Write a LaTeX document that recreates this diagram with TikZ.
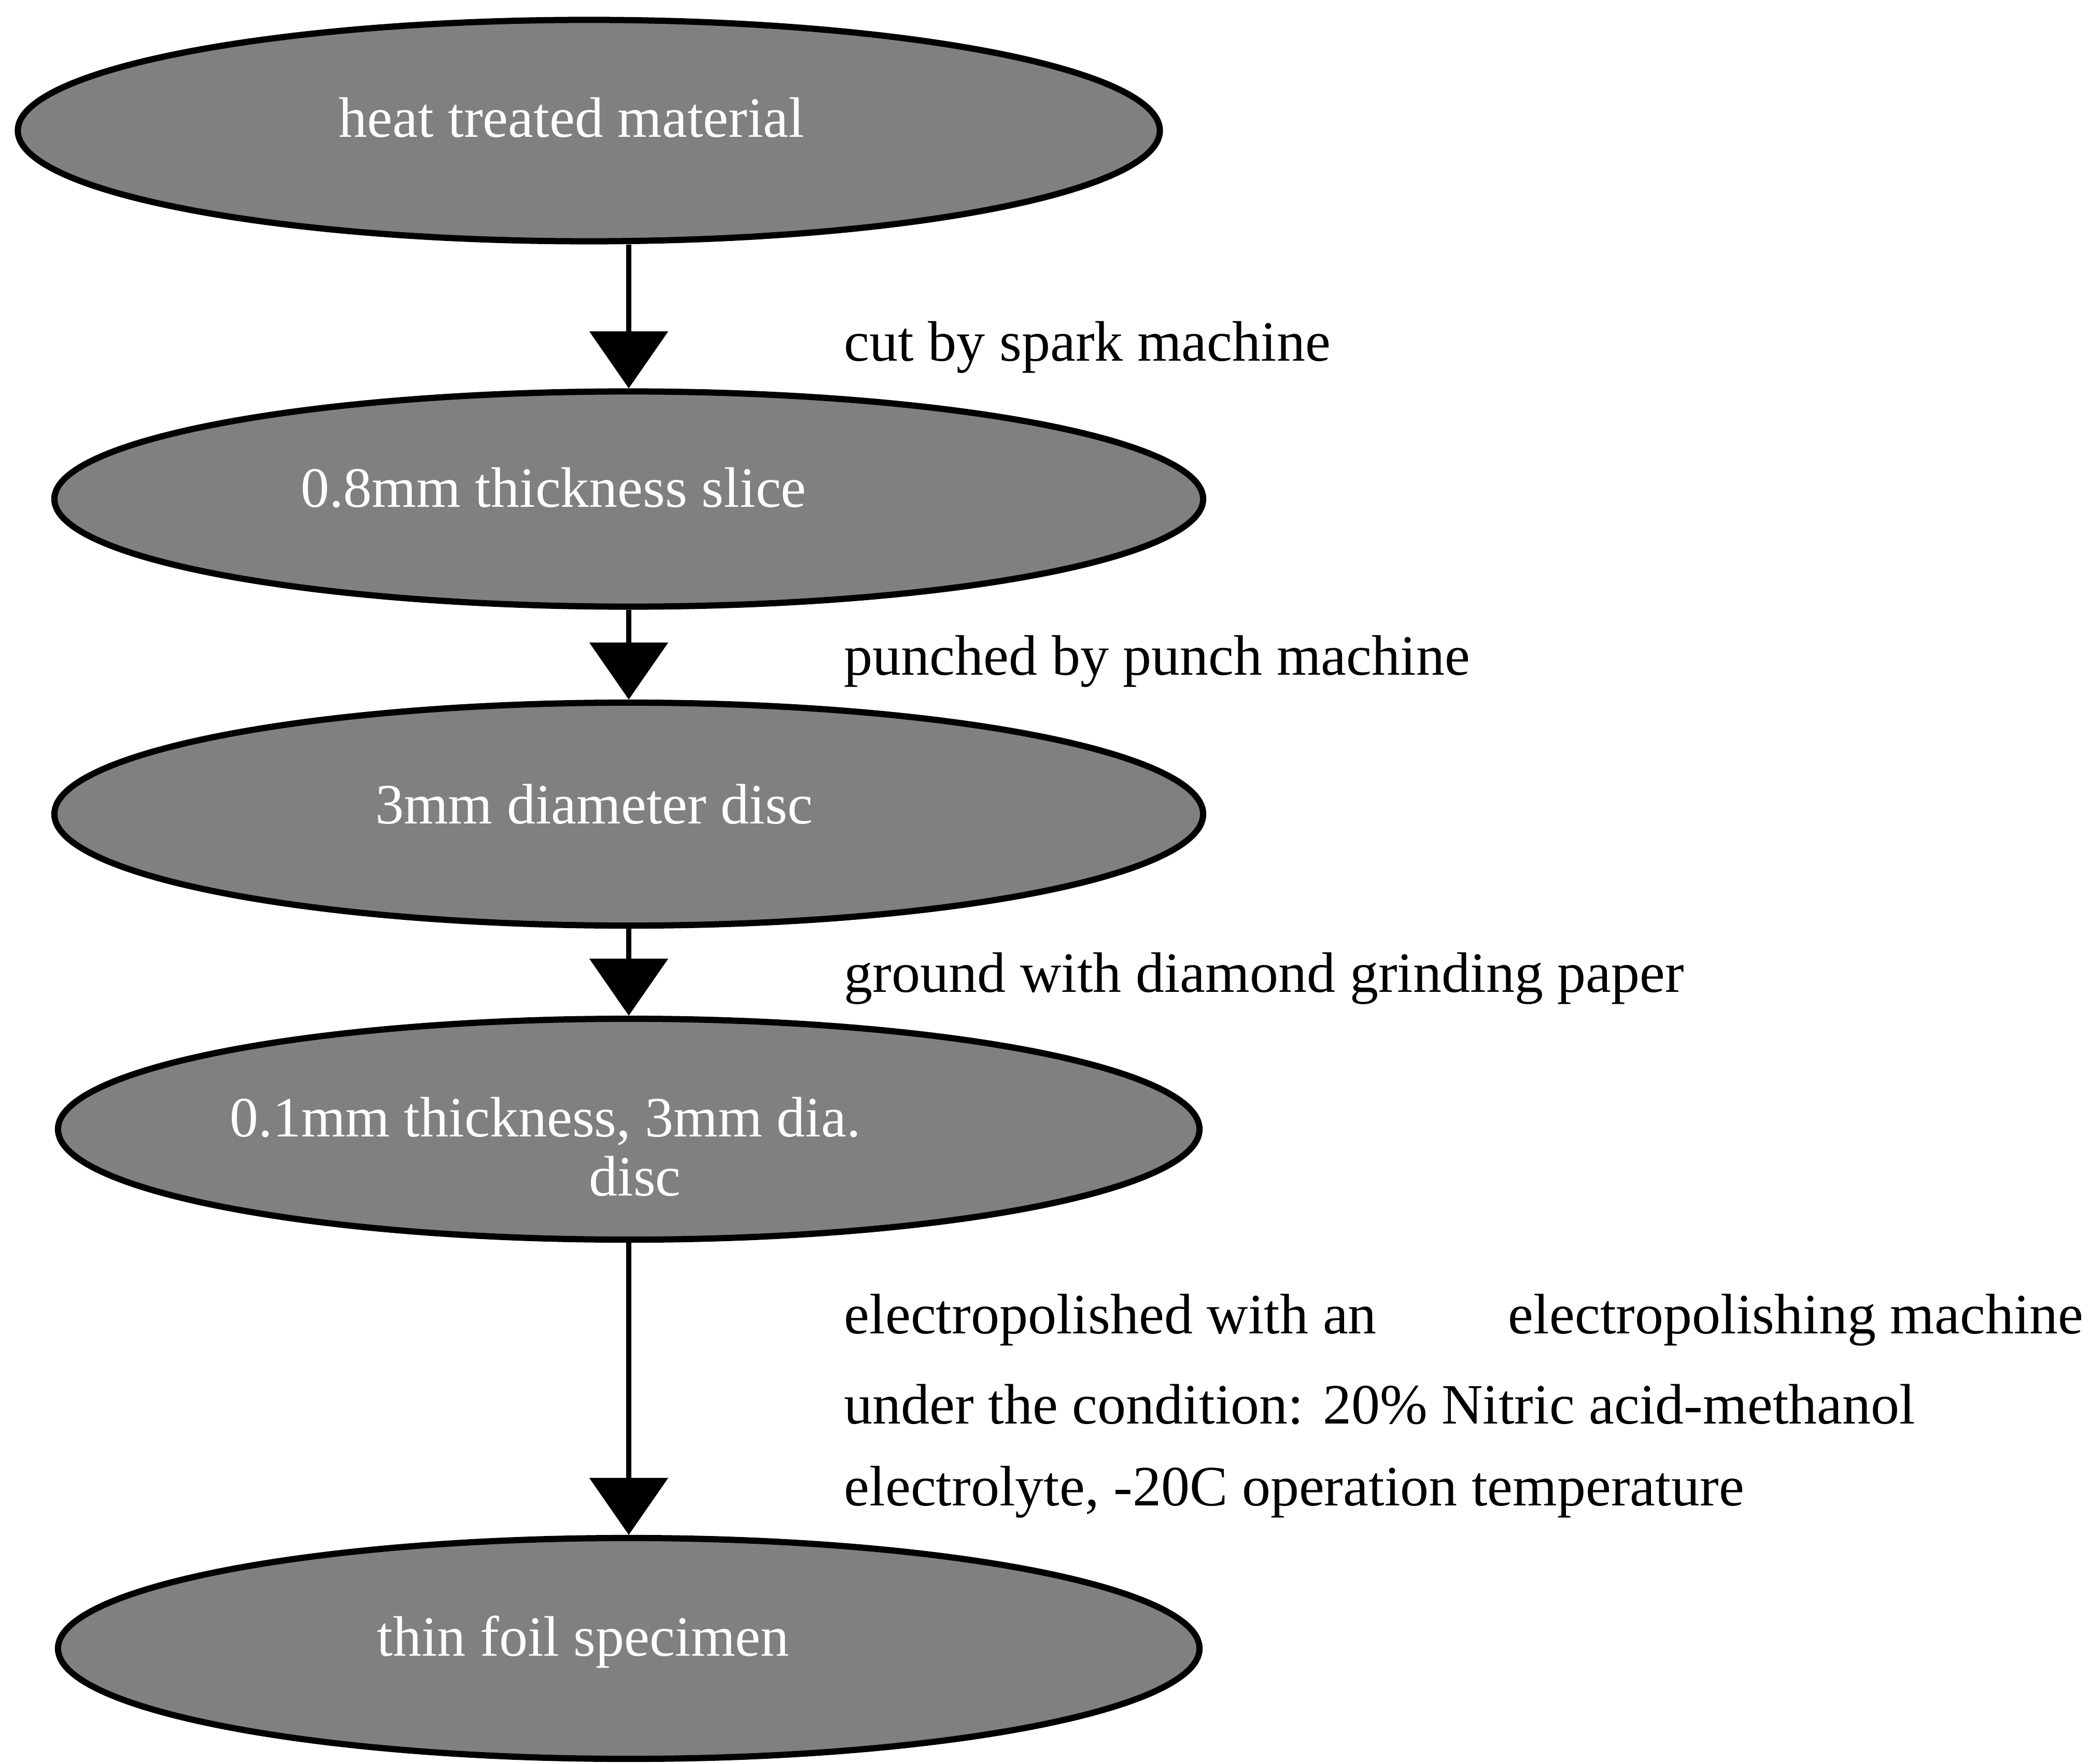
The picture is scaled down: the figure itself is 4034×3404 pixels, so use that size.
\documentclass[tikz,border=0pt]{standalone}
\usepackage{fontspec}
\setmainfont{Liberation Serif}
\usetikzlibrary{shapes.geometric,arrows.meta}
\begin{document}
\begin{tikzpicture}[x=0.01cm,y=-0.01cm,
  stage/.style={ellipse,draw=black,line width=0.12cm,fill=black!50,inner sep=0pt},
  stagetext/.style={text=white,font=\fontsize{31.3}{37}\selectfont,inner sep=0pt,anchor=base},
  steplabel/.style={font=\fontsize{31.3}{37}\selectfont,inner sep=0pt,anchor=base west},
  flow/.style={line width=0.1cm,-{Triangle[width=1.5cm,length=1.1cm]}}]
\useasboundingbox (0,0) rectangle (4034,3404);

% stages of the specimen preparation
\node[stage,minimum width=22.02cm,minimum height=4.27cm] (e1) at (1136,252) {};
\node[stage,minimum width=22.15cm,minimum height=4.15cm] (e2) at (1213,963) {};
\node[stage,minimum width=22.15cm,minimum height=4.30cm] (e3) at (1213,1571) {};
\node[stage,minimum width=22.01cm,minimum height=4.26cm] (e4) at (1213,2179) {};
\node[stage,minimum width=22.01cm,minimum height=4.26cm] (e5) at (1213,3181) {};

\node[stagetext] (t1) at (1103,265) {heat treated material};
\node[stagetext] (t2) at (1068,979) {0.8mm thickness slice};
\node[stagetext] (t3) at (1146,1589) {3mm diameter disc};
\node[stagetext] (t4a) at (1052,2193) {0.1mm thickness, 3mm dia.};
\node[stagetext] (t4b) at (1225,2307) {disc};
\node[stagetext] (t5) at (1125,3195) {thin foil specimen};

% process steps
\draw[flow] (e1.south -| e2.north) -- (e2.north);
\draw[flow] (e2.south) -- (e3.north);
\draw[flow] (e3.south) -- (e4.north);
\draw[flow] (e4.south) -- (e5.north);

\node[steplabel] (l1) at (1628,697) {cut by spark machine};
\node[steplabel] (l2) at (1628,1302) {punched by punch machine};
\node[steplabel] (l3) at (1628,1914) {ground with diamond grinding paper};
\node[steplabel] (l4a) at (1628,2573) {electropolished with an\hspace{2.54cm}electropolishing machine};
\node[steplabel] (l4b) at (1628,2747) {under the condition: 20\% Nitric acid-methanol};
\node[steplabel] (l4c) at (1628,2905) {electrolyte, -20C operation temperature};
\end{tikzpicture}
\end{document}
